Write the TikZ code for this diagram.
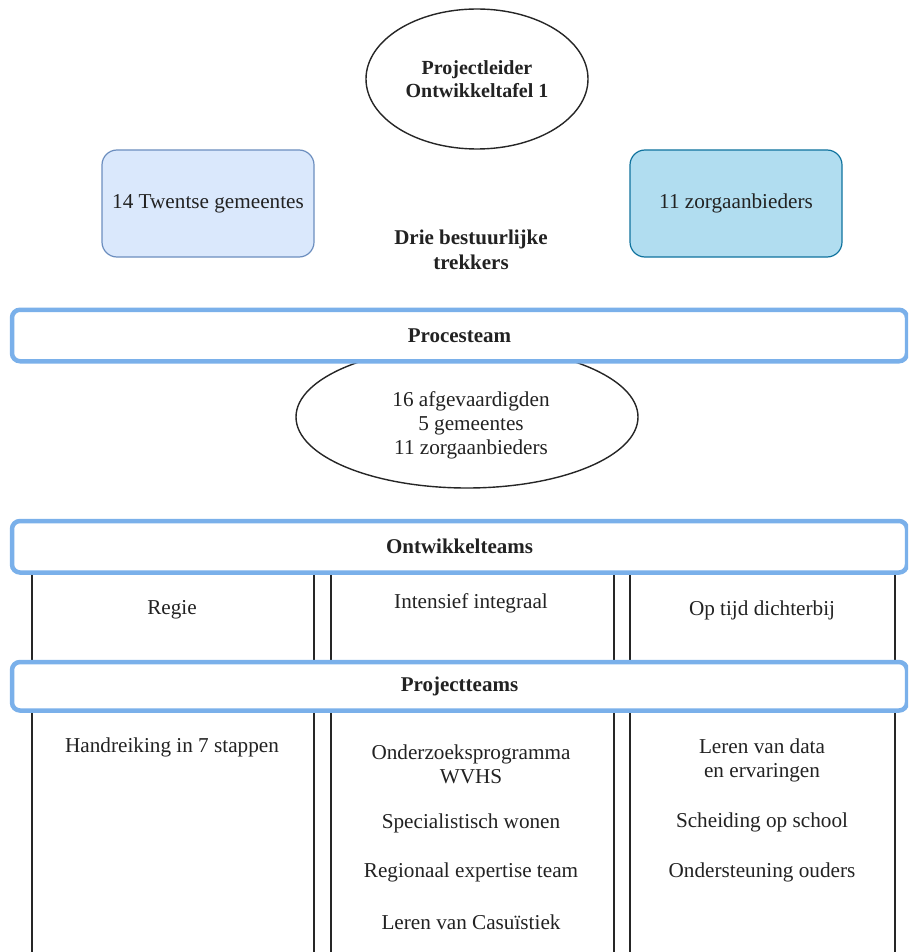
\documentclass[tikz,border=0pt]{standalone}
\usepackage{fontspec}
\setmainfont{Liberation Serif}
\usetikzlibrary{shapes.geometric}
\definecolor{barblue}{RGB}{122,176,234}
\definecolor{lbfill}{HTML}{DAE8FC}
\definecolor{lbdraw}{HTML}{6C8EBF}
\definecolor{rbfill}{HTML}{B1DDF0}
\definecolor{rbdraw}{HTML}{10739E}
\definecolor{txt}{RGB}{34,34,34}
\tikzset{
  txtn/.style={inner sep=0pt, align=center, text=txt, font=\fontsize{21.2}{24}\selectfont},
  boldn/.style={txtn, font=\fontsize{21}{24}\selectfont\bfseries},
  ovalbox/.style={ellipse, draw=black!85, line width=1.4pt, inner sep=0pt, fill=white},
  topbox/.style={rectangle, rounded corners=15pt, line width=1.2pt, minimum width=212pt, minimum height=107pt, inner sep=0pt, txtn},
  barbox/.style={rectangle, rounded corners=8pt, draw=barblue, line width=4.5pt, fill=white, minimum width=895pt, inner sep=0pt, boldn},
  colline/.style={draw=black!85, line width=1.5pt}
}
\begin{document}
\begin{tikzpicture}[x=1pt,y=-1pt]
\useasboundingbox (0,0) rectangle (908,952);
\clip (0,0) rectangle (908,952);
\fill[white] (0,0) rectangle (908,952);

% top ellipse
\node[ovalbox, minimum width=222pt, minimum height=140pt, boldn, font=\fontsize{20}{22.5}\selectfont\bfseries] (pl) at (477,79) {Projectleider\\Ontwikkeltafel 1};

% top boxes
\node[topbox, draw=lbdraw, fill=lbfill] (gem) at (208,203.5) {14 Twentse gemeentes};
\node[topbox, draw=rbdraw, fill=rbfill] (zorg) at (736,203.5) {11 zorgaanbieders};
\node[boldn, font=\fontsize{21}{25}\selectfont\bfseries] (drie) at (471,250) {Drie bestuurlijke\\trekkers};

% columns
\draw[colline] (32,560) rectangle (314,965);
\draw[colline] (331,560) rectangle (614,965);
\draw[colline] (630,560) rectangle (895,965);

% middle ellipse
\node[ovalbox, minimum width=342pt, minimum height=142pt] (afg) at (467,417) {};
\node[txtn] (afgtxt) at (471,425) {16 afgevaardigden\\5 gemeentes\\11 zorgaanbieders};

% bars
\node[barbox, minimum height=51.5pt] (proces) at (459.5,335.5) {Procesteam};
\node[barbox, minimum height=51.5pt] (ontw) at (459.5,546.75) {Ontwikkelteams};
\node[barbox, minimum height=48.5pt] (proj) at (459.5,686.25) {Projectteams};

% ontwikkelteams texts
\node[txtn] (regie) at (172,610) {Regie};
\node[txtn] (intens) at (471,603) {Intensief integraal};
\node[txtn] (optijd) at (762,610) {Op tijd dichterbij};

% projectteams texts
\node[txtn] (handr) at (172,747) {Handreiking in 7 stappen};
\node[txtn] (onderz) at (471,764) {Onderzoeksprogramma\\WVHS};
\node[txtn] (spec) at (471,823) {Specialistisch wonen};
\node[txtn] (regio) at (471,872) {Regionaal expertise team};
\node[txtn] (casu) at (471,922) {Leren van Casuïstiek};
\node[txtn] (data) at (762,760) {Leren van data\\en ervaringen};
\node[txtn] (scheid) at (762,822) {Scheiding op school};
\node[txtn] (onderst) at (762,872) {Ondersteuning ouders};
\end{tikzpicture}
\end{document}
